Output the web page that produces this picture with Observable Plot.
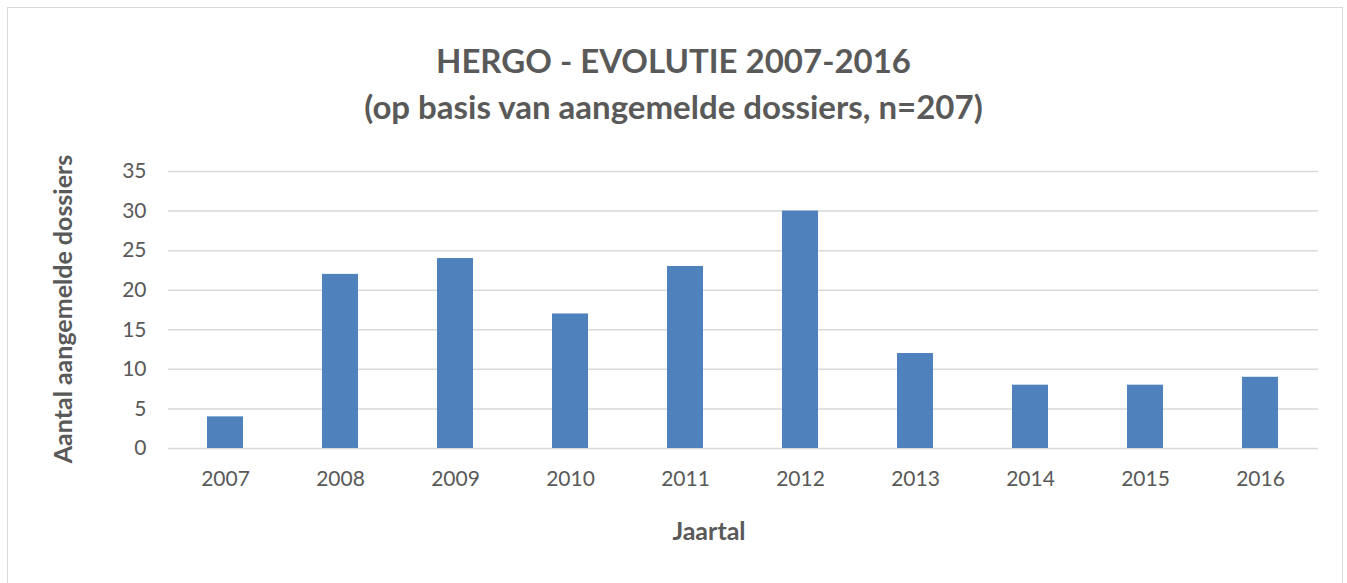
<!DOCTYPE html>
<html>
<head>
<meta charset="utf-8">
<script src="https://cdn.jsdelivr.net/npm/d3@7"></script>
<script src="https://cdn.jsdelivr.net/npm/@observablehq/plot@0.6"></script>
<style>
  html, body { margin: 0; padding: 0; background: #fff; }
  #wrap { position: relative; width: 1347px; height: 583px; overflow: hidden; font-family: Lato, "Open Sans", sans-serif; color: #595959; }
  #frame { position: absolute; left: 7px; top: 7px; width: 1336px; height: 590px; border: 1.5px solid #D9D9D9; box-sizing: border-box; }
  #title { position: absolute; left: 0; width: 1347px; top: 37px; text-align: center; font-weight: bold; font-size: 33px; line-height: 46px; color: #595959; }
  #ylab { position: absolute; left: 62px; top: 309px; transform: translate(-50%, -50%) rotate(-90deg); white-space: nowrap; font-weight: bold; font-size: 25px; color: #595959; }
  #xlab { position: absolute; left: 709px; top: 530px; transform: translate(-50%, -50%); white-space: nowrap; font-weight: bold; font-size: 25px; color: #595959; }
  #chart { position: absolute; left: 0; top: 0; }
</style>
</head>
<body>
<div id="wrap">
  <div id="frame"></div>
  <div id="chart"></div>
  <div id="title">HERGO - EVOLUTIE 2007-2016<br>(op basis van aangemelde dossiers, n=207)</div>
  <div id="ylab">Aantal aangemelde dossiers</div>
  <div id="xlab">Jaartal</div>
</div>
<script>
const years = ["2007","2008","2009","2010","2011","2012","2013","2014","2015","2016"];
const counts = [4, 22, 24, 17, 23, 30, 12, 8, 8, 9];
const yTicks = [0, 5, 10, 15, 20, 25, 30, 35];

const data = years.map((y, i) => ({year: y, count: counts[i]}));

const chart = Plot.plot({
  width: 1347,
  height: 583,
  marginTop: 171,
  marginBottom: 135,
  marginLeft: 168,
  marginRight: 29,
  style: { fontFamily: "Lato, 'Open Sans', sans-serif", fontSize: "21px", color: "#595959", background: "transparent" },
  x: { domain: years, paddingInner: 0.6865, paddingOuter: 0.343, label: null },
  y: { domain: [0, 35], label: null },
  marks: [
    Plot.gridY(yTicks, { stroke: "#D9D9D9", strokeOpacity: 1, strokeWidth: 1.5 }),
    Plot.barY(data, { x: "year", y: "count", fill: "#4F81BD" }),
    Plot.axisY(yTicks, { tickSize: 0, tickPadding: 22, fill: "#595959", fontSize: 21, label: null }),
    Plot.axisX(years, { tickSize: 0, tickPadding: 23, fill: "#595959", fontSize: 21, label: null })
  ]
});
document.getElementById("chart").appendChild(chart);
</script>
</body>
</html>
